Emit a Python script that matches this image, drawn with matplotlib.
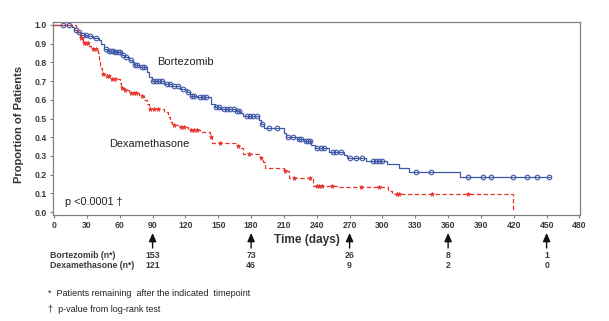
import numpy as np
import matplotlib
matplotlib.use("Agg")
import matplotlib.pyplot as plt
from matplotlib.transforms import blended_transform_factory

plt.rcParams['font.family'] = ['Liberation Sans', 'DejaVu Sans']

# ---- Data ----
bort_t = [0, 16, 18, 21, 24, 30, 36, 41, 43, 46, 48, 55, 62, 65, 68, 71, 73, 78, 85, 87, 89,
          100, 108, 115, 121, 124, 131, 143, 147, 152, 166, 170, 173, 187, 189, 192, 210, 212,
          222, 228, 235, 238, 251, 265, 268, 285, 304, 315, 324, 371, 453]
bort_s = [1.0, 0.987, 0.973, 0.96, 0.947, 0.94, 0.933, 0.92, 0.90, 0.873, 0.86, 0.853, 0.84,
          0.827, 0.813, 0.80, 0.787, 0.773, 0.747, 0.72, 0.70, 0.687, 0.673, 0.66, 0.64, 0.62,
          0.613, 0.58, 0.56, 0.553, 0.54, 0.527, 0.513, 0.49, 0.47, 0.45, 0.42, 0.40, 0.39,
          0.38, 0.36, 0.34, 0.32, 0.305, 0.29, 0.275, 0.257, 0.236, 0.213, 0.186, 0.186]
bort_cens = [8, 14, 20, 23, 26, 29, 33, 38, 47, 50, 52, 54, 56, 58, 60, 63, 66, 70, 74, 76, 80,
             82, 90, 93, 96, 99, 103, 106, 110, 113, 118, 122, 126, 128, 133, 136, 139, 148, 151,
             155, 158, 161, 164, 167, 169, 176, 179, 182, 185, 190, 196, 204, 214, 218, 224, 226,
             230, 232, 234, 240, 244, 247, 255, 258, 262, 270, 276, 281, 291, 294, 297, 300, 331,
             344, 378, 392, 399, 419, 432, 441, 452]

dexa_t = [0, 20, 22, 24, 26, 32, 34, 40, 41, 42, 44, 47, 52, 60, 61, 64, 68, 78, 82, 85, 87,
          100, 104, 106, 108, 113, 122, 133, 142, 144, 167, 170, 173, 188, 191, 193, 210, 215,
          237, 259, 305, 309, 419]
dexa_s = [1.0, 0.975, 0.95, 0.93, 0.905, 0.89, 0.87, 0.85, 0.81, 0.77, 0.74, 0.725, 0.71, 0.69,
          0.665, 0.65, 0.637, 0.62, 0.60, 0.575, 0.55, 0.535, 0.51, 0.48, 0.465, 0.455, 0.44,
          0.43, 0.40, 0.37, 0.355, 0.34, 0.31, 0.29, 0.27, 0.235, 0.22, 0.18, 0.14, 0.133,
          0.115, 0.096, 0.0]
dexa_cens = [25, 27, 29, 31, 36, 38, 45, 48, 50, 53, 56, 62, 65, 70, 73, 75, 80, 88, 91, 95,
             110, 116, 119, 125, 128, 131, 143, 152, 168, 178, 189, 211, 219, 234, 240, 242, 245,
             254, 280, 297, 313, 315, 345, 378]

risk_days = [90, 180, 270, 360, 450]
risk_bort = [153, 73, 26, 8, 1]
risk_dexa = [121, 46, 9, 2, 0]

x_ticks = list(range(0, 481, 30))
y_ticks = [round(0.1 * i, 1) for i in range(11)]

BLUE = '#3f58a8'
RED = '#e8342c'
GREY = '#808080'
TXT = '#3a3a3a'

W, H = 609, 321
fig = plt.figure(figsize=(W / 100, H / 100), dpi=100)
ax = fig.add_axes([53 / W, 1 - 215 / H, (580 - 53) / W, (215 - 22) / H])


def surv_at(times, surv, t):
    idx = np.searchsorted(times, t, side='right') - 1
    return np.asarray(surv)[idx]


ax.step(bort_t, bort_s, where='post', color=BLUE, lw=0.9)
ax.plot(bort_cens, surv_at(bort_t, bort_s, bort_cens), ls='none', marker='o', ms=3.3,
        mfc='none', mec=BLUE, mew=0.8)

ax.step(dexa_t, dexa_s, where='post', color=RED, lw=0.9, ls=(0, (3.5, 2)))
ax.plot(dexa_cens, surv_at(dexa_t, dexa_s, dexa_cens), ls='none', marker='*', ms=3.6,
        mfc=RED, mec=RED, mew=0.4)

ax.set_xlim(-1, 480.5)
ax.set_ylim(-0.016, 1.016)
ax.set_xticks(x_ticks)
ax.set_xticklabels([str(v) for v in x_ticks])
ax.set_yticks(y_ticks)
ax.set_yticklabels([f'{v:.1f}' for v in y_ticks])
ax.tick_params(axis='both', direction='out', length=2.5, width=0.8, color=GREY,
               labelsize=6.2, labelcolor=TXT, pad=2)
for lab in ax.get_xticklabels() + ax.get_yticklabels():
    lab.set_fontweight('bold')
for sp in ax.spines.values():
    sp.set_color(GREY)
    sp.set_linewidth(0.9)

ax.text(94, 0.80, 'Bortezomib', fontsize=8, color='#222222', va='center', ha='left')
ax.text(50, 0.364, 'Dexamethasone', fontsize=7.9, color='#222222', va='center', ha='left')
ax.text(10, 0.055, 'p <0.0001 \u2020', fontsize=7.8, color='#222222', va='center', ha='left')

fig.text(19 / W, 1 - 124 / H, 'Proportion of Patients', rotation=90, fontsize=8,
         fontweight='bold', color='#333333', va='center', ha='center')

tr = blended_transform_factory(ax.transData, fig.transFigure)
for d in risk_days:
    ax.annotate('', xy=(d, 1 - 233 / H), xytext=(d, 1 - 248 / H), xycoords=tr, textcoords=tr,
                annotation_clip=False,
                arrowprops=dict(arrowstyle='-|>,head_length=0.5,head_width=0.22', color='#111111',
                                lw=1.0, shrinkA=0, shrinkB=0))
ax.text(231, 1 - 240 / H, 'Time (days)', transform=tr, fontsize=8.6, fontweight='bold',
        color='#333333', ha='center', va='center')

fig.text(50 / W, 1 - 255 / H, 'Bortezomib (n*)', fontsize=6.3, fontweight='bold', color=TXT,
         va='center', ha='left')
fig.text(50 / W, 1 - 265.5 / H, 'Dexamethasone (n*)', fontsize=6.3, fontweight='bold', color=TXT,
         va='center', ha='left')
for d, nb, nd in zip(risk_days, risk_bort, risk_dexa):
    ax.text(d, 1 - 255 / H, str(nb), transform=tr, fontsize=6.3, fontweight='bold', color=TXT,
            ha='center', va='center')
    ax.text(d, 1 - 265.5 / H, str(nd), transform=tr, fontsize=6.3, fontweight='bold', color=TXT,
            ha='center', va='center')

fig.text(48 / W, 1 - 294 / H, '*  Patients remaining  after the indicated  timepoint', fontsize=6.5,
         color='#222222', va='center', ha='left')
fig.text(48 / W, 1 - 309 / H, '\u2020  p-value from log-rank test', fontsize=6.5,
         color='#222222', va='center', ha='left')

fig.savefig('out.png', dpi=100)
